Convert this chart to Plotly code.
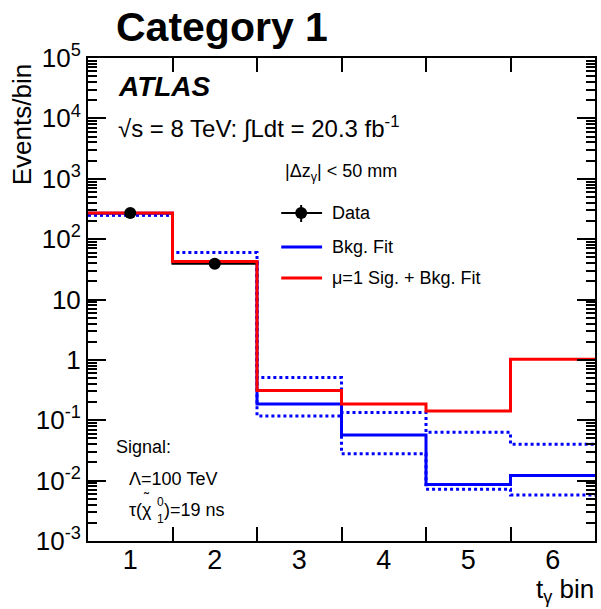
import numpy as np
import plotly.graph_objects as go

# ---- data ----
bin_centers = [1, 2, 3, 4, 5, 6]
bin_edges = [0.5, 1.5, 2.5, 3.5, 4.5, 5.5, 6.5]
x_tick_labels = ["1", "2", "3", "4", "5", "6"]

data_counts = [270, 39]                                   # observed, bins 1-2
sig_bkg_fit = [270, 42.5, 0.31, 0.185, 0.142, 1.02]        # mu=1 signal + bkg fit
bkg_fit = [268, 42.0, 0.185, 0.057, 0.0086, 0.0122]        # bkg-only fit
bkg_fit_up = [252, 60, 0.51, 0.135, 0.063, 0.040]          # bkg fit +1 sigma
bkg_fit_down = [248, 41, 0.118, 0.028, 0.0072, 0.0058]     # bkg fit -1 sigma

y_major_vals = [1e-3, 1e-2, 1e-1, 1, 10, 1e2, 1e3, 1e4, 1e5]
y_major_text = ["10<sup>-3</sup>", "10<sup>-2</sup>", "10<sup>-1</sup>", "1", "10",
                "10<sup>2</sup>", "10<sup>3</sup>", "10<sup>4</sup>", "10<sup>5</sup>"]
y_minor_vals = [m * 10.0 ** e for e in range(-3, 5) for m in range(2, 10)]

FONT = "Liberation Sans, Arial, Helvetica, sans-serif"

# plot-area pixel geometry (for placing text and the hand-made legend)
L, R, T, B = 88, 597, 58, 541


def px(x):
    return (x - L) / (R - L)


def py(y):
    return (B - y) / (B - T)


def step(vals, edges):
    """x/y arrays for an 'hv' step line spanning the given bin edges."""
    return list(edges[:len(vals) + 1]), list(vals) + [vals[-1]]


fig = go.Figure()

# background fit uncertainty (dotted)
for band in (bkg_fit_up, bkg_fit_down):
    sx, sy = step(band, bin_edges)
    fig.add_trace(go.Scatter(x=sx, y=sy, mode="lines", line_shape="hv",
                             line=dict(color="#0000ff", width=3, dash="dot"),
                             showlegend=False, hoverinfo="skip"))

# background-only fit
sx, sy = step(bkg_fit, bin_edges)
fig.add_trace(go.Scatter(x=sx, y=sy, mode="lines", line_shape="hv",
                         line=dict(color="#0000ff", width=3),
                         showlegend=False, name="Bkg. Fit"))

# data histogram outline
sx, sy = step(data_counts, bin_edges)
fig.add_trace(go.Scatter(x=sx, y=sy, mode="lines", line_shape="hv",
                         line=dict(color="black", width=2),
                         showlegend=False, hoverinfo="skip"))

# signal + background fit
sx, sy = step(sig_bkg_fit, bin_edges)
fig.add_trace(go.Scatter(x=sx, y=sy, mode="lines", line_shape="hv",
                         line=dict(color="#ff0000", width=3),
                         showlegend=False, name="μ=1 Sig. + Bkg. Fit"))

# data points (on the overlay axes, which share the same fixed ranges)
fig.add_trace(go.Scatter(x=bin_centers[:len(data_counts)], y=data_counts,
                         xaxis="x2", yaxis="y2", mode="markers",
                         marker=dict(color="black", size=12),
                         error_y=dict(type="data", array=list(np.sqrt(data_counts)),
                                      color="black", thickness=2, width=0),
                         showlegend=False, name="Data"))

axis_common = dict(showgrid=False, zeroline=False, showline=True,
                   linecolor="black", linewidth=2, mirror="ticks",
                   ticks="inside", tickcolor="#000000", tickwidth=2)

fig.update_layout(
    width=601, height=609,
    margin=dict(l=L, r=601 - R, t=T, b=609 - B),
    paper_bgcolor="white", plot_bgcolor="white",
    font=dict(family=FONT, color="black"),
    xaxis=dict(range=[0.5, 6.5], tickvals=bin_edges[1:-1], ticklen=14,
               showticklabels=False, **axis_common),
    xaxis2=dict(range=[0.5, 6.5], overlaying="x", anchor="y", side="bottom",
                tickvals=bin_centers, ticktext=x_tick_labels, ticks="",
                showgrid=False, zeroline=False, showline=False,
                tickfont=dict(size=27, family=FONT, color="black")),
    yaxis=dict(type="log", range=[-3, 5], tickvals=y_major_vals,
               ticktext=y_major_text, ticklen=18,
               tickfont=dict(size=26, family=FONT, color="black"),
               **axis_common),
    yaxis2=dict(type="log", range=[-3, 5], overlaying="y", anchor="x",
                side="left", tickvals=y_minor_vals, ticklen=9,
                showticklabels=False, **axis_common),
)

# hand-drawn legend
leg_x0, leg_x1 = 282, 323
fig.add_shape(type="line", xref="paper", yref="paper",
              x0=px(leg_x0), x1=px(leg_x1), y0=py(213), y1=py(213),
              line=dict(color="black", width=2))
fig.add_shape(type="line", xref="paper", yref="paper",
              x0=px(302), x1=px(302), y0=py(205), y1=py(222),
              line=dict(color="black", width=2))
fig.add_shape(type="circle", xref="paper", yref="paper",
              xsizemode="pixel", ysizemode="pixel",
              xanchor=px(302), yanchor=py(213), x0=-6, x1=6, y0=-6, y1=6,
              fillcolor="black", line=dict(color="black", width=0))
fig.add_shape(type="line", xref="paper", yref="paper",
              x0=px(leg_x0), x1=px(leg_x1), y0=py(247), y1=py(247),
              line=dict(color="#0000ff", width=3))
fig.add_shape(type="line", xref="paper", yref="paper",
              x0=px(leg_x0), x1=px(leg_x1), y0=py(278), y1=py(278),
              line=dict(color="#ff0000", width=3))


def label(text, x, y, size, xanchor="left", **kw):
    fig.add_annotation(text=text, x=px(x), y=py(y), xref="paper", yref="paper",
                       xanchor=xanchor, yanchor="middle", showarrow=False,
                       font=dict(size=size, family=FONT, color="black"), **kw)


label("Data", 331, 213, 18)
label("Bkg. Fit", 331, 247, 18)
label("μ=1 Sig. + Bkg. Fit", 331, 278, 18)
label("|Δz<sub>γ</sub>| < 50 mm", 284, 172, 18)

label("<b>Category 1</b>", 114, 27, 41)
label("<b><i>ATLAS</i></b>", 116, 87, 28)
label("√s = 8 TeV: ∫Ldt = 20.3 fb<sup>-1</sup>", 116, 128, 24)

label("Signal:", 114, 447, 18)
label("Λ=100 TeV", 127, 479, 18)
# tau(chi~^0_1) = 19 ns, with the tilde and stacked indices placed by hand
label("τ(χ", 127, 510, 18)
label("˜", 147, 497, 15, xanchor="center")
label("0", 155, 502, 12)
label("1", 155, 519, 12)
label(")=19 ns", 162, 510, 18)

label("t<sub>γ</sub> bin", 598, 590, 26, xanchor="right")
label("Events/bin", 22, 125, 26, xanchor="center", textangle=-90)

fig.write_html("out.html")
